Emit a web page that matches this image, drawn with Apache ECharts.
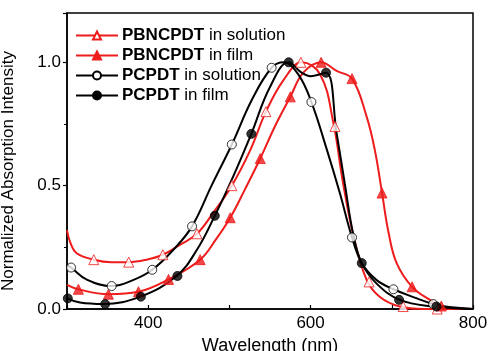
<!DOCTYPE html>
<html>
<head>
<meta charset="utf-8">
<script src="https://cdn.jsdelivr.net/npm/echarts@6/dist/echarts.min.js"></script>
<style>
  html, body { margin: 0; padding: 0; background: #fff; }
  #chart { width: 489px; height: 351px; }
</style>
</head>
<body>
<div id="chart"></div>
<script>
// 曲线数据
const pbSolX = [300, 304, 312, 333, 355, 376, 398, 418, 439, 460, 480, 503, 526, 545, 567, 589, 612, 628, 640, 653, 669, 685, 710, 740, 800]
const pbSolY = [0.32, 0.27, 0.226, 0.20, 0.19, 0.19, 0.20, 0.22, 0.26, 0.305, 0.39, 0.50, 0.646, 0.80, 0.93, 1.0, 0.95, 0.755, 0.51, 0.294, 0.118, 0.05, 0.01, 0.0, 0.0]
const pbSolMarkX = [333, 376, 418, 460, 503, 545, 588, 630, 672, 714, 756]
const pbSolMarkY = [0.20, 0.19, 0.22, 0.305, 0.50, 0.80, 1.0, 0.74, 0.11, 0.01, 0.0]

const pbFilmX = [300, 314, 351, 388, 425, 464, 483, 501, 519, 538, 556, 575, 591, 613, 632, 651, 669, 679, 688, 696, 706, 725, 747, 763, 800]
const pbFilmY = [0.098, 0.08, 0.06, 0.07, 0.12, 0.20, 0.28, 0.37, 0.484, 0.61, 0.74, 0.86, 0.958, 1.0, 0.965, 0.934, 0.78, 0.646, 0.47, 0.31, 0.186, 0.09, 0.037, 0.01, 0.0]
const pbFilmMarkX = [314, 351, 388, 425, 464, 501, 538, 575, 613, 651, 688, 725, 761]
const pbFilmMarkY = [0.08, 0.06, 0.07, 0.12, 0.20, 0.37, 0.61, 0.86, 1.0, 0.934, 0.47, 0.09, 0.012]

const pSolX = [300, 305, 325, 355, 382, 405, 431, 454, 478, 503, 528, 552, 567, 585, 601, 620, 636, 651, 663, 681, 702, 731, 751, 766, 800]
const pSolY = [0.179, 0.168, 0.118, 0.093, 0.118, 0.159, 0.24, 0.335, 0.50, 0.667, 0.85, 0.978, 1.0, 0.95, 0.839, 0.646, 0.47, 0.29, 0.186, 0.118, 0.08, 0.043, 0.02, 0.01, 0.0]
const pSolMarkX = [305, 355, 405, 454, 503, 552, 601, 651, 702, 751]
const pSolMarkY = [0.168, 0.093, 0.159, 0.335, 0.667, 0.978, 0.839, 0.29, 0.08, 0.02]

const pFilmX = [300, 316, 345, 390, 435, 460, 482, 505, 527, 550, 573, 588, 600, 619, 632, 642, 653, 663, 681, 710, 751, 800]
const pFilmY = [0.043, 0.026, 0.02, 0.05, 0.134, 0.24, 0.378, 0.54, 0.71, 0.90, 1.0, 0.96, 0.944, 0.958, 0.714, 0.51, 0.294, 0.186, 0.104, 0.037, 0.01, 0.0]
const pFilmMarkX = [301, 347, 391, 436, 482, 527, 573, 619, 663, 709, 755]
const pFilmMarkY = [0.043, 0.02, 0.05, 0.134, 0.378, 0.71, 1.0, 0.958, 0.186, 0.037, 0.01]

const xTickLabels = [400, 600, 800]
const yTickLabels = [0, 0.5, 1.0]

const RED = '#ee1c1c'
const FONT = 'Liberation Sans'

const zip = (xs, ys) => xs.map((x, i) => [x, ys[i]])

// 每条曲线：平滑线 + 标记点
const curves = [
  { name: 'PBNCPDT in solution', color: RED, symbol: 'triangle', open: true, x: pbSolX, y: pbSolY, mx: pbSolMarkX, my: pbSolMarkY },
  { name: 'PBNCPDT in film', color: RED, symbol: 'triangle', open: false, x: pbFilmX, y: pbFilmY, mx: pbFilmMarkX, my: pbFilmMarkY },
  { name: 'PCPDT in solution', color: '#000', symbol: 'circle', open: true, x: pSolX, y: pSolY, mx: pSolMarkX, my: pSolMarkY },
  { name: 'PCPDT in film', color: '#000', symbol: 'circle', open: false, x: pFilmX, y: pFilmY, mx: pFilmMarkX, my: pFilmMarkY }
]

const series = []
curves.forEach(c => {
  const itemStyle = {
    color: c.open ? '#fff' : c.color,
    borderColor: c.color,
    borderWidth: 1
  }
  series.push({
    name: c.name,
    type: 'line',
    data: zip(c.x, c.y),
    smooth: 0.4,
    showSymbol: false,
    symbol: c.symbol,
    symbolSize: c.symbol === 'triangle' ? 10 : 9,
    lineStyle: { color: c.color, width: 2 },
    itemStyle: itemStyle,
    z: 2
  })
  series.push({
    name: c.name,
    type: 'scatter',
    data: zip(c.mx, c.my),
    symbol: c.symbol,
    symbolSize: c.symbol === 'triangle' ? 10 : 9,
    itemStyle: itemStyle,
    z: 3
  })
})

const chart = echarts.init(document.getElementById('chart'))
chart.setOption({
  animation: false,
  textStyle: { fontFamily: FONT },
  grid: {
    left: 67, right: 16, top: 13, bottom: 42,
    outerBoundsMode: 'none',
    containLabel: false,
    show: true, borderColor: '#000', borderWidth: 1.5, backgroundColor: 'transparent'
  },
  legend: {
    data: curves.map(c => c.name),
    orient: 'vertical',
    left: 70,
    top: 22,
    itemGap: 3,
    itemWidth: 42,
    itemHeight: 10,
    textStyle: {
      fontSize: 17, color: '#000', fontFamily: FONT, padding: [0, 0, 0, -1],
      rich: { b: { fontWeight: 'bold', fontSize: 17, fontFamily: FONT, color: '#000' } }
    },
    formatter: name => {
      const i = name.indexOf(' ')
      return '{b|' + name.slice(0, i) + '}' + name.slice(i)
    }
  },
  xAxis: {
    type: 'value',
    min: 300,
    max: 800,
    interval: 100,
    name: 'Wavelength (nm)',
    nameLocation: 'middle',
    nameGap: 27,
    nameTextStyle: { fontSize: 18, color: '#000', fontFamily: FONT },
    axisLine: { lineStyle: { color: '#000', width: 1.5 } },
    axisTick: { inside: true, length: 4, lineStyle: { color: '#000', width: 1.2 } },
    axisLabel: {
      fontSize: 17, color: '#000', margin: 6,
      formatter: v => (xTickLabels.includes(v) ? String(v) : '')
    },
    splitLine: { show: false }
  },
  yAxis: {
    type: 'value',
    min: 0,
    max: 1.2,
    interval: 0.5,
    name: 'Normalized Absorption Intensity',
    nameLocation: 'middle',
    nameGap: 50,
    nameTextStyle: { fontSize: 17, color: '#000', fontFamily: FONT, padding: [0, 20, 0, 0] },
    axisLine: { lineStyle: { color: '#000', width: 1.5 } },
    axisTick: { length: 4, lineStyle: { color: '#000', width: 1.2 } },
    minorTick: { show: true, splitNumber: 2, length: 3, lineStyle: { color: '#000' } },
    axisLabel: {
      fontSize: 17, color: '#000', margin: 6, showMaxLabel: false,
      formatter: v => (yTickLabels.some(t => Math.abs(t - v) < 1e-6) ? v.toFixed(1) : '')
    },
    splitLine: { show: false }
  },
  series: series
})
</script>
</body>
</html>
